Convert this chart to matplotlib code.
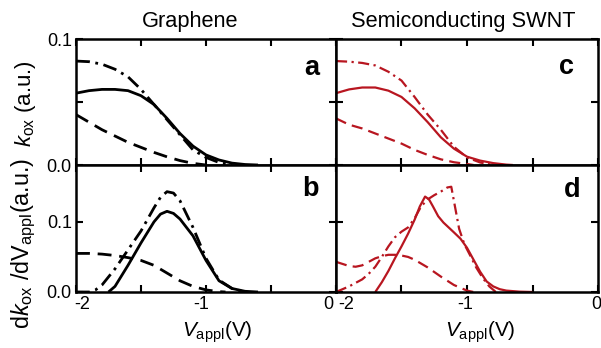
import numpy as np
import matplotlib.pyplot as plt
import matplotlib.transforms as mtransforms

plt.rcParams['font.family'] = ['Liberation Sans', 'DejaVu Sans']
plt.rcParams['mathtext.fontset'] = 'custom'
plt.rcParams['mathtext.rm'] = 'Liberation Sans'
plt.rcParams['mathtext.it'] = 'Liberation Sans:italic'
plt.rcParams['mathtext.bf'] = 'Liberation Sans:bold'

#-----------------------------------------------------------------------------------------------------------------------
# Data (V_appl in V, rates in a.u.)

# panel a: graphene k_ox
a_solid_x = [-2, -1.9, -1.8, -1.7, -1.6, -1.5, -1.4, -1.3, -1.2, -1.1, -1.0, -0.9, -0.8, -0.7, -0.6]
a_solid_y = [0.057, 0.059, 0.060, 0.060, 0.059, 0.055, 0.048, 0.037, 0.025, 0.015, 0.008, 0.004, 0.0015, 0.0004, 0.0]
a_dd_x = [-2, -1.9, -1.8, -1.7, -1.6, -1.5, -1.4, -1.3, -1.2, -1.1, -1.0, -0.9, -0.8]
a_dd_y = [0.0825, 0.082, 0.080, 0.076, 0.070, 0.060, 0.048, 0.036, 0.024, 0.012, 0.006, 0.002, 0.0]
a_dash_x = [-2, -1.9, -1.8, -1.7, -1.6, -1.5, -1.4, -1.3, -1.2, -1.1, -1.0]
a_dash_y = [0.040, 0.034, 0.028, 0.023, 0.018, 0.014, 0.010, 0.0065, 0.0035, 0.0013, 0.0]

# panel b: graphene dk_ox/dV_appl
b_solid_x = [-1.75, -1.7, -1.6, -1.5, -1.4, -1.35, -1.3, -1.25, -1.2, -1.1, -1.0, -0.9, -0.8, -0.7, -0.6]
b_solid_y = [0.0, 0.008, 0.038, 0.070, 0.100, 0.111, 0.115, 0.112, 0.104, 0.080, 0.045, 0.016, 0.005, 0.001, 0.0]
b_dd_x = [-2, -1.9, -1.85, -1.8, -1.7, -1.6, -1.5, -1.4, -1.35, -1.3, -1.25, -1.2, -1.1, -1.0, -0.9, -0.8, -0.7]
b_dd_y = [0.0, 0.0, 0.003, 0.010, 0.033, 0.060, 0.087, 0.120, 0.135, 0.143, 0.141, 0.130, 0.092, 0.048, 0.017, 0.005, 0.0]
b_dash_x = [-2, -1.9, -1.8, -1.7, -1.6, -1.5, -1.4, -1.3, -1.2, -1.1, -1.0, -0.9, -0.85]
b_dash_y = [0.055, 0.055, 0.054, 0.052, 0.049, 0.045, 0.038, 0.027, 0.016, 0.008, 0.003, 0.0005, 0.0]

# panel c: semiconducting SWNT k_ox
c_solid_x = [-2, -1.9, -1.8, -1.7, -1.6, -1.5, -1.4, -1.3, -1.2, -1.1, -1.0, -0.9, -0.8, -0.7, -0.65]
c_solid_y = [0.057, 0.060, 0.0615, 0.0615, 0.059, 0.054, 0.045, 0.034, 0.022, 0.013, 0.0066, 0.0035, 0.0015, 0.0003, 0.0]
c_dd_x = [-2, -1.9, -1.8, -1.7, -1.6, -1.5, -1.4, -1.3, -1.2, -1.1, -1.0, -0.9, -0.8]
c_dd_y = [0.0825, 0.082, 0.081, 0.079, 0.074, 0.067, 0.054, 0.040, 0.028, 0.0145, 0.006, 0.002, 0.0]
c_dash_x = [-2, -1.9, -1.8, -1.7, -1.6, -1.5, -1.4, -1.3, -1.2, -1.1, -1.0, -0.95]
c_dash_y = [0.037, 0.032, 0.029, 0.025, 0.021, 0.017, 0.012, 0.008, 0.0045, 0.0022, 0.0008, 0.0]

# panel d: semiconducting SWNT dk_ox/dV_appl
d_solid_x = [-1.70, -1.65, -1.6, -1.55, -1.5, -1.45, -1.4, -1.36, -1.32, -1.29, -1.26, -1.22, -1.18, -1.14,
             -1.1, -1.05, -1.0, -0.95, -0.9, -0.85, -0.8, -0.75, -0.7, -0.6, -0.5]
d_solid_y = [0.0, 0.014, 0.030, 0.048, 0.065, 0.083, 0.103, 0.122, 0.136, 0.132, 0.122, 0.108, 0.099, 0.092,
             0.085, 0.076, 0.063, 0.046, 0.029, 0.015, 0.008, 0.004, 0.002, 0.0005, 0.0]
d_dd_x = [-2, -1.9, -1.8, -1.75, -1.7, -1.65, -1.6, -1.55, -1.5, -1.45, -1.4, -1.35, -1.3, -1.25, -1.2, -1.15,
          -1.12, -1.09, -1.06, -1.02, -0.97, -0.93, -0.88, -0.83, -0.78]
d_dd_y = [0.0, 0.008, 0.018, 0.026, 0.036, 0.050, 0.065, 0.078, 0.086, 0.092, 0.105, 0.122, 0.132, 0.138, 0.143, 0.149,
          0.150, 0.120, 0.090, 0.068, 0.050, 0.035, 0.020, 0.008, 0.0]
d_dash_x = [-2, -1.95, -1.9, -1.85, -1.8, -1.75, -1.7, -1.65, -1.6, -1.55, -1.5, -1.45, -1.4, -1.3, -1.2, -1.1,
            -1.0, -0.95]
d_dash_y = [0.043, 0.040, 0.037, 0.036, 0.038, 0.043, 0.048, 0.051, 0.053, 0.053, 0.052, 0.050, 0.046, 0.035, 0.022,
            0.010, 0.002, 0.0]

titles = ['Graphene', 'Semiconducting SWNT']
panel_letters = ['a', 'b', 'c', 'd']
x_ticks = [-2, -1.5, -1, -0.5, 0]
x_ticklabels = ['-2', '', '-1', '', '0']

#-----------------------------------------------------------------------------------------------------------------------
# Figure

RED = '#b81620'
DASH = (5, 2.8)
DASHDOT = (5, 2, 1, 2)

fig = plt.figure(figsize=(6.01, 3.48), dpi=100)
W = 601.0
H = 348.0


def make_ax(x0, x1, y0, y1):
    return fig.add_axes([x0 / W, 1 - y1 / H, (x1 - x0) / W, (y1 - y0) / H])


ax_a = make_ax(76, 336, 39, 165)
ax_b = make_ax(76, 336, 165, 292)
ax_c = make_ax(336, 598, 39, 165)
ax_d = make_ax(336, 598, 165, 292)


def style(ax, top_row, left_col):
    ax.set_xlim(-2, 0)
    ax.set_xticks(x_ticks)
    if top_row:
        ax.set_ylim(0, 0.1)
        ax.set_yticks([0, 0.05, 0.1])
        ax.set_yticklabels(['0.0', '', '0.1'])
        ax.set_xticklabels([])
    else:
        ax.set_ylim(0, 0.181)
        ax.set_yticks([0, 0.1])
        ax.set_yticklabels(['0.0', '0.1'])
        ax.set_xticklabels(x_ticklabels)
    if not left_col:
        ax.set_yticklabels([])
    ax.tick_params(direction='in', top=True, right=True, length=5, width=1.5,
                   labelsize=13, pad=3)
    for s in ax.spines.values():
        s.set_linewidth(1.8)


def shift_xlabels(ax, offsets):
    # nudge individual tick labels horizontally (pixels)
    for lab, dx in zip(ax.get_xticklabels(), offsets):
        if dx:
            lab.set_transform(lab.get_transform() + mtransforms.ScaledTranslation(dx / 100, 0, fig.dpi_scale_trans))


def draw(ax, sx, sy, ddx, ddy, dx, dy, color, lw):
    ax.plot(sx, sy, color=color, lw=lw, solid_capstyle='butt')
    ax.plot(ddx, ddy, color=color, lw=lw, dashes=DASHDOT)
    ax.plot(dx, dy, color=color, lw=lw, dashes=DASH)


draw(ax_a, a_solid_x, a_solid_y, a_dd_x, a_dd_y, a_dash_x, a_dash_y, 'black', 2.0)
draw(ax_b, b_solid_x, b_solid_y, b_dd_x, b_dd_y, b_dash_x, b_dash_y, 'black', 2.0)
draw(ax_c, c_solid_x, c_solid_y, c_dd_x, c_dd_y, c_dash_x, c_dash_y, RED, 1.6)
draw(ax_d, d_solid_x, d_solid_y, d_dd_x, d_dd_y, d_dash_x, d_dash_y, RED, 1.6)

style(ax_a, True, True)
style(ax_b, False, True)
style(ax_c, True, False)
style(ax_d, False, False)

shift_xlabels(ax_b, [6, 0, -5, 0, -8])
shift_xlabels(ax_d, [10, 0, -2, 0, -2])

for ax, letter, (lx, ly) in zip([ax_a, ax_b, ax_c, ax_d], panel_letters,
                               [(0.905, 0.77), (0.90, 0.81), (0.88, 0.78), (0.90, 0.80)]):
    ax.text(lx, ly, letter, transform=ax.transAxes, fontsize=19.5, fontweight='bold',
            ha='center', va='center')

fig.text(190 / W, 1 - 22 / H, titles[0], fontsize=15.7, ha='center', va='center')
fig.text(463 / W, 1 - 22 / H, titles[1], fontsize=15.7, ha='center', va='center')

fig.text(25 / W, 1 - 104 / H, r'$k_{\rm ox}$ (a.u.)', rotation=90, fontsize=16,
         ha='center', va='center')
fig.text(24 / W, 1 - 243 / H, r'd$k_{\rm ox}$ /dV$_{\rm appl}$(a.u.)', rotation=90, fontsize=16.8,
         ha='center', va='center')

fig.text(217 / W, 1 - 332 / H, r'$V_{\rm appl}$(V)', fontsize=15, ha='center', va='center')
fig.text(480 / W, 1 - 332 / H, r'$V_{\rm appl}$(V)', fontsize=15, ha='center', va='center')

fig.savefig('out.png', dpi=100)
